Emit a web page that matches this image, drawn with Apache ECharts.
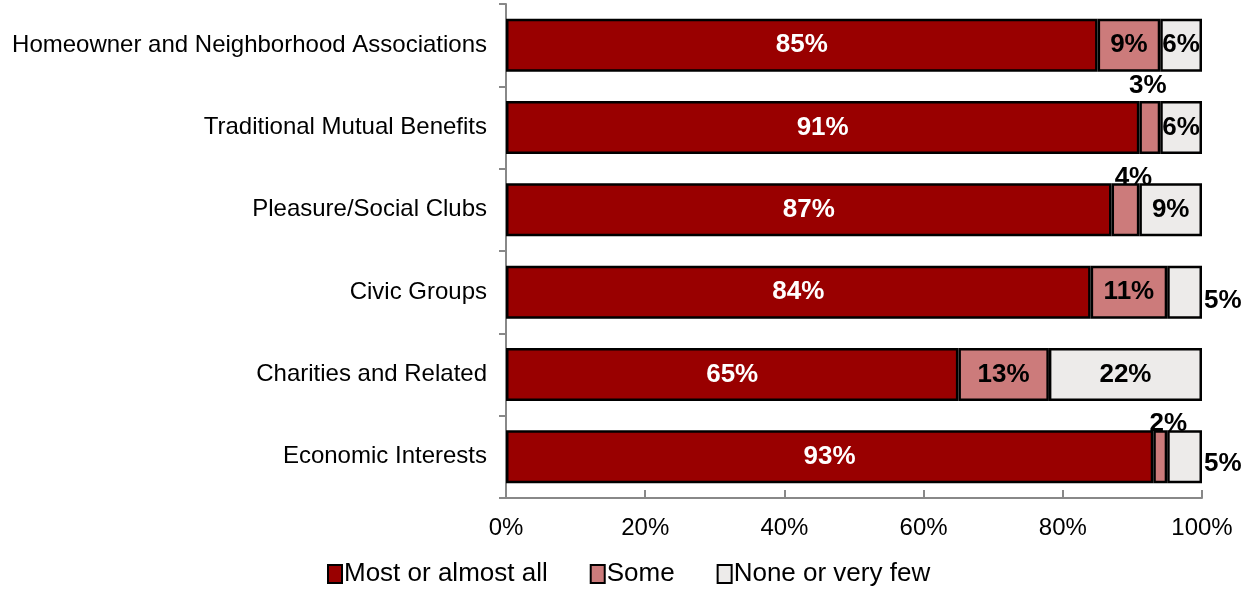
<!DOCTYPE html>
<html>
<head>
<meta charset="utf-8">
<script src="https://cdn.jsdelivr.net/npm/echarts@6/dist/echarts.min.js"></script>
<style>
  html, body { margin: 0; padding: 0; background: #fff; }
  #chart { width: 1248px; height: 594px; }
</style>
</head>
<body>
<div id="chart"></div>
<script>
// Share of organizations by group type
const categories = [
  'Homeowner and Neighborhood Associations',
  'Traditional Mutual Benefits',
  'Pleasure/Social Clubs',
  'Civic Groups',
  'Charities and Related',
  'Economic Interests'
];
const seriesNames = ['Most or almost all', 'Some', 'None or very few'];
const mostValues = [85, 91, 87, 84, 65, 93];
const someValues = [9, 3, 4, 11, 13, 2];
const noneValues = [6, 6, 9, 5, 22, 5];
const xTicks = [0, 20, 40, 60, 80, 100];

const FONT = '"Liberation Sans", Arial, sans-serif';
const colors = ['#990000', '#CC7B7B', '#EDEBEA'];

// label placement for narrow segments whose labels sit outside the bar
const someLabelPlace = {
  1: { position: 'top', offset: [-2, 3] },
  2: { position: 'top', offset: [8, 12] },
  5: { position: 'top', offset: [8, 11] }
};
const noneLabelPlace = {
  3: { position: 'right', distance: 2, offset: [0, 9] },
  5: { position: 'right', distance: 2, offset: [0, 7] }
};

function buildData(values, placement) {
  return values.map((v, i) => {
    const item = { value: v };
    if (placement && placement[i]) item.label = placement[i];
    return item;
  });
}

const labelBase = {
  show: true,
  position: 'inside',
  fontFamily: FONT,
  fontWeight: 'bold',
  fontSize: 26,
  formatter: p => p.value + '%'
};

const chart = echarts.init(document.getElementById('chart'));
chart.setOption({
  animation: false,
  backgroundColor: '#fff',
  grid: { left: 506, right: 46, top: 4, bottom: 96 },
  legend: {
    top: 556,
    left: 322,
    icon: 'rect',
    itemWidth: 14,
    itemHeight: 18,
    itemGap: 42,
    textStyle: { fontFamily: FONT, fontSize: 26, color: '#000', padding: [0, 0, 0, -3] },
    data: seriesNames.map((n, i) => ({
      name: n,
      itemStyle: { color: colors[i], borderColor: '#000', borderWidth: 2 }
    }))
  },
  xAxis: {
    type: 'value',
    min: 0,
    max: 100,
    interval: 20,
    splitLine: { show: false },
    axisLine: { show: true, lineStyle: { color: '#888', width: 2 } },
    axisTick: { show: true, inside: true, length: 8, lineStyle: { color: '#888', width: 2 } },
    axisLabel: {
      margin: 18,
      fontFamily: FONT,
      fontSize: 24,
      color: '#000',
      formatter: v => (xTicks.includes(v) ? v + '%' : '')
    }
  },
  yAxis: {
    type: 'category',
    data: categories,
    inverse: true,
    axisLine: { show: true, lineStyle: { color: '#888', width: 2 } },
    axisTick: { show: true, length: 7, lineStyle: { color: '#888', width: 2 } },
    axisLabel: { margin: 19, fontFamily: FONT, fontSize: 24, color: '#000' }
  },
  series: [
    {
      name: seriesNames[0],
      type: 'bar',
      stack: 'total',
      barWidth: 53,
      data: buildData(mostValues),
      itemStyle: { color: colors[0], borderColor: '#000', borderWidth: 2.5 },
      label: Object.assign({}, labelBase, { color: '#fff' })
    },
    {
      name: seriesNames[1],
      type: 'bar',
      stack: 'total',
      barWidth: 53,
      data: buildData(someValues, someLabelPlace),
      itemStyle: { color: colors[1], borderColor: '#000', borderWidth: 2.5 },
      label: Object.assign({}, labelBase, { color: '#000' })
    },
    {
      name: seriesNames[2],
      type: 'bar',
      stack: 'total',
      barWidth: 53,
      data: buildData(noneValues, noneLabelPlace),
      itemStyle: { color: colors[2], borderColor: '#000', borderWidth: 2.5 },
      label: Object.assign({}, labelBase, { color: '#000' })
    }
  ]
});
</script>
</body>
</html>
